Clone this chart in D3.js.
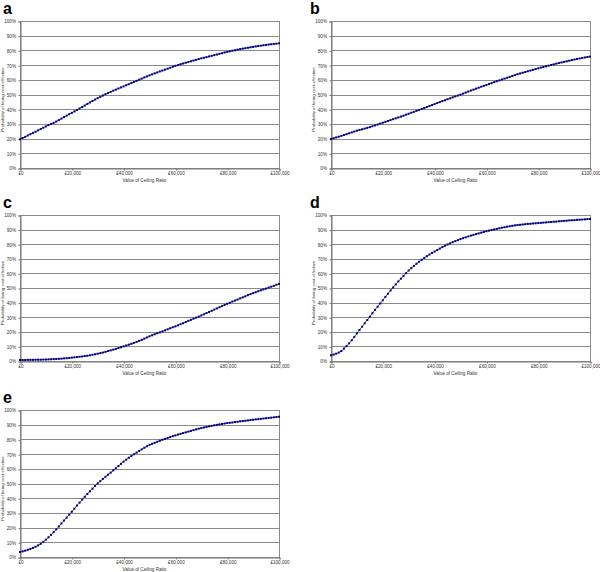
<!DOCTYPE html>
<html><head><meta charset="utf-8">
<script src="https://cdn.jsdelivr.net/npm/d3@7"></script>
<style>body{margin:0;background:#fff}svg{display:block}</style>
</head><body><svg id="chart" width="600" height="572"></svg>
<script>
// Ceiling ratio categories: £0 to £100,000 in £1,000 steps
const ceilingRatios = d3.range(0, 100001, 1000);
const xTickValues = [0, 20000, 40000, 60000, 80000, 100000];
const xTickLabels = ["£0", "£20,000", "£40,000", "£60,000", "£80,000", "£100,000"];
const yTickValues = [0, 10, 20, 30, 40, 50, 60, 70, 80, 90, 100];
const yTickLabels = ["0%", "10%", "20%", "30%", "40%", "50%", "60%", "70%", "80%", "90%", "100%"];
const panelLabels = ["a", "b", "c", "d", "e"];
const xTitle = "Value of Ceiling Ratio";
const yTitle = "Probability of being cost-effective";

// Probability of being cost-effective (%)
const probA = [19.5,20.4,21.2,22.1,23.0,23.9,24.7,25.6,26.5,27.4,28.3,
29.2,30.0,30.7,31.6,32.6,33.6,34.6,35.6,36.6,37.5,
38.5,39.5,40.5,41.5,42.5,43.6,44.6,45.6,46.6,47.5,
48.4,49.3,50.2,51.0,51.8,52.6,53.3,54.1,54.8,55.5,
56.3,57.0,57.8,58.5,59.3,60.1,60.8,61.6,62.3,63.0,
63.7,64.4,65.0,65.7,66.3,66.9,67.6,68.2,68.9,69.5,
70.0,70.6,71.1,71.6,72.1,72.6,73.1,73.6,74.1,74.6,
75.0,75.4,75.9,76.3,76.8,77.2,77.7,78.1,78.6,79.0,
79.4,79.8,80.1,80.5,80.9,81.2,81.5,81.8,82.1,82.4,
82.7,83.0,83.2,83.5,83.7,84.0,84.2,84.4,84.6,84.8];
const probB = [19.7,20.2,20.8,21.3,21.9,22.4,23.0,23.6,24.2,24.8,25.4,
25.9,26.3,26.8,27.3,27.8,28.4,29.0,29.6,30.2,30.8,
31.4,32.0,32.6,33.2,33.8,34.4,35.0,35.6,36.3,36.9,
37.6,38.2,38.9,39.5,40.2,40.8,41.5,42.2,42.8,43.5,
44.2,44.8,45.5,46.1,46.8,47.4,48.1,48.7,49.3,49.9,
50.6,51.3,52.0,52.7,53.3,54.0,54.6,55.3,55.9,56.5,
57.1,57.7,58.4,59.0,59.6,60.2,60.8,61.4,62.0,62.6,
63.2,63.8,64.3,64.8,65.3,65.8,66.3,66.8,67.3,67.8,
68.3,68.7,69.2,69.6,70.1,70.5,71.0,71.4,71.8,72.2,
72.6,73.0,73.4,73.8,74.2,74.5,74.9,75.2,75.5,75.8];
const probC = [0.7,0.7,0.7,0.8,0.8,0.8,0.9,0.9,0.9,1.0,1.0,
1.1,1.2,1.3,1.4,1.5,1.6,1.8,1.9,2.1,2.3,
2.5,2.7,2.9,3.1,3.4,3.6,3.9,4.3,4.6,5.0,
5.4,5.8,6.3,6.8,7.3,7.8,8.3,8.9,9.4,10.0,
10.6,11.2,11.8,12.4,13.1,13.8,14.5,15.3,16.1,16.9,
17.6,18.3,19.0,19.6,20.3,21.0,21.7,22.4,23.1,23.7,
24.4,25.2,25.9,26.7,27.5,28.2,29.0,29.7,30.4,31.2,
32.0,32.8,33.6,34.4,35.2,36.0,36.8,37.6,38.4,39.2,
39.9,40.7,41.4,42.1,42.9,43.6,44.3,45.1,45.8,46.5,
47.1,47.8,48.4,49.0,49.6,50.3,50.9,51.5,52.2,52.8];
const probD = [3.9,4.4,5.0,5.8,6.8,8.5,10.2,12.1,14.2,16.5,18.9,
21.2,23.5,25.8,28.1,30.4,32.7,35.0,37.2,39.4,41.6,
43.9,46.1,48.3,50.4,52.5,54.5,56.4,58.3,60.2,62.0,
63.6,65.1,66.6,68.0,69.3,70.6,71.8,72.9,74.0,75.0,
76.0,77.0,78.0,78.9,79.8,80.6,81.4,82.1,82.8,83.5,
84.1,84.7,85.3,85.9,86.4,86.9,87.4,87.9,88.4,88.9,
89.3,89.7,90.1,90.5,90.9,91.3,91.6,92.0,92.3,92.6,
92.9,93.1,93.3,93.5,93.7,93.9,94.0,94.2,94.3,94.5,
94.6,94.8,94.9,95.1,95.2,95.4,95.5,95.7,95.8,96.0,
96.1,96.3,96.4,96.5,96.7,96.8,96.9,97.0,97.2,97.3];
const probE = [3.4,3.8,4.3,4.9,5.5,6.2,7.0,7.9,9.0,10.3,11.8,
13.4,15.1,16.9,18.8,20.8,22.8,24.8,26.8,28.8,30.8,
32.9,35.0,37.0,39.0,41.0,42.9,44.7,46.5,48.3,50.1,
51.6,53.1,54.6,56.0,57.4,58.9,60.4,61.9,63.4,64.9,
66.2,67.5,68.7,69.9,71.0,72.1,73.2,74.3,75.3,76.3,
77.0,77.7,78.4,79.1,79.8,80.4,81.0,81.6,82.2,82.7,
83.3,83.8,84.3,84.8,85.3,85.8,86.3,86.8,87.3,87.7,
88.1,88.5,88.9,89.2,89.6,89.9,90.2,90.5,90.8,91.1,
91.3,91.5,91.8,92.0,92.3,92.5,92.7,92.9,93.2,93.4,
93.6,93.8,94.0,94.2,94.4,94.6,94.8,95.0,95.2,95.4];

const seriesList = [probA, probB, probC, probD, probE];

// Layout (pixel boxes of each plot area)
const layout = [
  {left: 20,  right: 279, top: 21,  bottom: 168, lx: 3,   ly: 13.5},
  {left: 331, right: 590, top: 21,  bottom: 168, lx: 310, ly: 13.5},
  {left: 20,  right: 279, top: 215, bottom: 361, lx: 3,   ly: 208},
  {left: 331, right: 590, top: 215, bottom: 361, lx: 310, ly: 208},
  {left: 20,  right: 279, top: 410, bottom: 557, lx: 3,   ly: 403}
];

const svg = d3.select("#chart");
const font = "Arial, 'Liberation Sans', sans-serif";

layout.forEach((L, i) => {
  const data = seriesList[i];
  const x = d3.scaleLinear().domain([0, 100000]).range([L.left, L.right]);
  const y = d3.scaleLinear().domain([0, 100]).range([L.bottom, L.top]);
  const g = svg.append("g");

  // gridlines
  g.selectAll("line.grid").data(yTickValues.filter(v => v > 0 && v < 100)).enter()
    .append("line")
    .attr("x1", L.left).attr("x2", L.right)
    .attr("y1", d => Math.round(y(d)) + 0.5).attr("y2", d => Math.round(y(d)) + 0.5)
    .attr("stroke", "#8a8a8a").attr("stroke-width", 1);

  // plot border
  g.append("rect")
    .attr("x", L.left + 0.5).attr("y", Math.round(L.top) + 0.5)
    .attr("width", L.right - L.left).attr("height", Math.round(L.bottom) - Math.round(L.top))
    .attr("fill", "none").attr("stroke", "#8a8a8a").attr("stroke-width", 1);

  // y axis
  const yAxis = d3.axisLeft(y).tickValues(yTickValues)
    .tickFormat((d, k) => yTickLabels[k]).tickSize(2).tickPadding(2.5);
  const ya = g.append("g").attr("transform", `translate(${L.left + 0.5},0.5)`).call(yAxis);
  ya.select(".domain").attr("stroke", "#777");
  ya.selectAll(".tick line").attr("stroke", "#777");
  ya.selectAll("text").attr("font-family", font).attr("font-size", 4.6).attr("fill", "#333");

  // x axis
  const xAxis = d3.axisBottom(x).tickValues(xTickValues)
    .tickFormat((d, k) => xTickLabels[k]).tickSize(2).tickPadding(1.5);
  const xa = g.append("g").attr("transform", `translate(0.5,${Math.round(L.bottom) + 0.5})`).call(xAxis);
  xa.select(".domain").attr("stroke", "#777");
  xa.selectAll(".tick line").attr("stroke", "#777");
  xa.selectAll("text").attr("font-family", font).attr("font-size", 4.6).attr("fill", "#333");

  // axis titles
  g.append("text")
    .attr("x", (L.left + L.right) / 2 - 5).attr("y", L.bottom + 13.5)
    .attr("text-anchor", "middle").attr("font-family", font)
    .attr("font-size", 4.6).attr("fill", "#333").text(xTitle);
  g.append("text")
    .attr("transform", `translate(${L.left - 16},${(L.top + L.bottom) / 2 + 5}) rotate(-90)`)
    .attr("text-anchor", "middle").attr("font-family", font)
    .attr("font-size", 4.4).attr("fill", "#333").text(yTitle);

  // series line
  const pts = ceilingRatios.map((c, k) => [c, data[k]]);
  g.append("path").datum(pts)
    .attr("d", d3.line().x(d => x(d[0])).y(d => y(d[1])))
    .attr("fill", "none").attr("stroke", "#000080").attr("stroke-width", 0.7);
  g.selectAll("rect.mk").data(pts).enter().append("rect")
    .attr("x", d => x(d[0]) - 1).attr("y", d => y(d[1]) - 1)
    .attr("width", 2).attr("height", 2)
    .attr("fill", "#000080");

  // panel label
  svg.append("text").attr("x", L.lx).attr("y", L.ly)
    .attr("font-family", font).attr("font-weight", "bold")
    .attr("font-size", 16).attr("fill", "#000").text(panelLabels[i]);
});
</script></body></html>
